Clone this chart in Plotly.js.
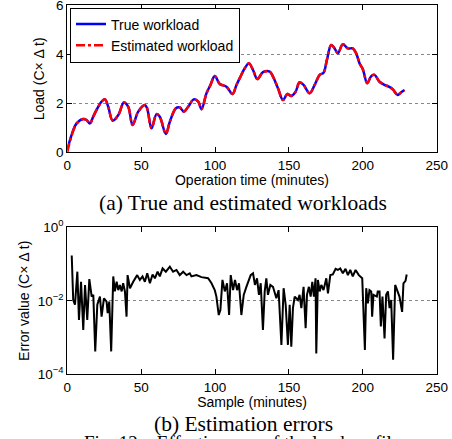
<!DOCTYPE html>
<html>
<head>
<meta charset="utf-8">
<script src="https://cdn.plot.ly/plotly-3.0.1.min.js"></script>
<style>html,body{margin:0;padding:0;background:#fff;}#chart{width:452px;height:439px;overflow:hidden;}</style>
</head>
<body>
<div id="chart"></div>
<script>
// (a) workload series
const loadX = [0,1.8,6.3,10.8,13,15.3,17.5,19.8,23.2,25.5,27.7,30.7,34.5,38.3,41.2,44.2,48,52.5,54,57,60.4,62.6,66.7,69.4,73.5,76.1,78.9,81.8,85.6,88.6,90.8,94.2,96.9,99.8,103.2,107.7,111.8,114.5,117.2,120.1,123,125.7,128.6,132.4,137,139.2,142.6,146,148.9,151.6,154.5,157.2,159.9,164,167.4,170.8,173.4,175.7,178.6,180.9,183.1,186.5,189.9,193.2,195.5,197.8,200,203,205.7,207.9,211.3,214.7,217.6,220.3,223.6,226,228.2];
const trueLoad = [0.1,0.5,1.18,1.36,1.32,1.18,1.45,1.73,2.07,2.16,1.86,1.29,1.52,2.03,1.86,1.11,1.66,1.93,1.8,0.98,1.56,1.45,0.75,1.25,1.8,1.83,1.66,1.86,2.16,2.07,1.76,2.41,2.75,3.11,2.79,2.68,2.38,2.75,3.09,3.43,3.63,3.36,2.99,3.27,3.29,3.09,2.61,2.13,2.38,2.30,2.47,2.86,2.75,2.41,2.75,3.16,3.25,3.77,4.38,4.24,4.04,4.41,4.24,4.24,4.04,3.63,3.39,2.82,3.11,3.16,2.88,2.75,2.68,2.57,2.34,2.45,2.54];
const estLoad = [0.0,0.45,1.17,1.36,1.32,1.18,1.45,1.73,2.07,2.16,1.86,1.29,1.52,2.03,1.86,1.11,1.66,1.93,1.8,0.98,1.56,1.45,0.75,1.25,1.8,1.83,1.66,1.86,2.16,2.07,1.76,2.41,2.75,3.11,2.79,2.68,2.38,2.75,3.09,3.43,3.63,3.36,2.99,3.27,3.29,3.09,2.61,2.13,2.38,2.30,2.47,2.86,2.75,2.41,2.75,3.16,3.25,3.77,4.38,4.24,4.04,4.41,4.24,4.24,4.04,3.63,3.39,2.82,3.11,3.16,2.88,2.75,2.68,2.57,2.34,2.45,2.54];

// (b) estimation error series
const errX = [3,4,5.2,6.8,7.9,9.3,10.8,12,13.5,14.9,16.5,17.6,18.9,20.3,22.1,23.2,24.8,26.6,27.3,28.4,29.7,31.1,32.2,33.4,34.5,35.6,36.8,37.8,39,40.1,40.8,42.4,44.6,47.3,49.1,50.9,52.5,54.1,55.9,57.7,59.3,61.1,62.6,64.5,66.7,69.4,71.6,73.9,76.1,78.4,80.7,82.9,84,87.4,90.8,95.3,97.6,99.8,100.9,102.5,103.6,105,106.6,108.1,109.5,110.6,112.2,113.5,114.9,116.2,117.8,119.4,121.2,123,124.1,125.7,127,128.4,129.7,130.9,132.4,133.6,134.7,135.8,137.4,139.2,141.5,143,144.9,146.4,147.8,149.3,150.5,151.6,152.7,153.9,156.1,157.2,158.4,159.9,161.3,162.2,163.5,164.7,165.8,166.9,168,168.5,169.6,170.8,171.9,173.4,175.3,176.4,178,179.7,181.6,183.1,184.7,186.5,188.3,189.9,191.5,193.2,195.1,197.3,199.6,201.4,202.3,203.4,204.5,205.7,206.3,207.2,209.5,210.1,211.3,212.2,213.3,214.7,215.8,217,218.1,219.2,220.5,221.9,223.2,224.8,226.6,227.5,228.9,229.7];
const errVal = [0.17,0.0105,0.0078,0.062,0.003,0.033,0.0016,0.027,0.003,0.039,0.013,0.0145,0.00042,0.0078,0.013,0.0037,0.0117,0.0095,0.0046,0.0095,0.00042,0.046,0.018,0.033,0.0195,0.027,0.018,0.030,0.018,0.0037,0.050,0.022,0.033,0.050,0.037,0.046,0.033,0.056,0.030,0.052,0.041,0.062,0.046,0.076,0.062,0.085,0.062,0.069,0.050,0.062,0.050,0.056,0.046,0.050,0.044,0.041,0.030,0.0195,0.013,0.0041,0.0056,0.037,0.018,0.030,0.0041,0.050,0.0195,0.037,0.0195,0.030,0.0041,0.0145,0.024,0.037,0.050,0.056,0.027,0.041,0.0145,0.030,0.0016,0.018,0.041,0.0145,0.027,0.024,0.0117,0.0195,0.00063,0.022,0.0078,0.00063,0.0078,0.00056,0.0063,0.013,0.0105,0.0145,0.0063,0.024,0.0018,0.0145,0.024,0.013,0.033,0.013,0.041,0.00037,0.037,0.018,0.027,0.0195,0.041,0.016,0.050,0.052,0.074,0.069,0.076,0.056,0.074,0.050,0.069,0.046,0.069,0.050,0.041,0.00046,0.022,0.0085,0.0195,0.018,0.0037,0.0145,0.013,0.018,0.018,0.002,0.013,0.00095,0.0145,0.018,0.0063,0.0105,0.00025,0.027,0.0195,0.013,0.005,0.030,0.035,0.052];

const xTicks = [0,50,100,150,200,250];
const loadTicks = [0,2,4,6];
const errTicks = [1e-4,1e-2,1];
const errTickText = ['10<sup>−4</sup>','10<sup>−2</sup>','10<sup>0</sup>'];

const W = 452, H = 439;
const px = v => v / W;
const py = v => (H - v) / H;

const sans = 'Liberation Sans, Arial, sans-serif';
const serif = 'Liberation Serif, Times New Roman, serif';

const axisBase = {
  showline: true, linecolor: '#000', linewidth: 1, mirror: 'ticks',
  ticks: 'inside', ticklen: 5, tickcolor: '#000', tickwidth: 1,
  zeroline: false, ticklabeloverflow: 'allow',
  tickfont: {family: sans, size: 13.5, color: '#000'},
};

const traces = [
  {x: loadX, y: trueLoad, type: 'scatter', mode: 'lines', name: 'True workload',
   line: {color: '#0000ff', width: 2.5, shape: 'spline', smoothing: 1}, xaxis: 'x', yaxis: 'y'},
  {x: loadX, y: estLoad, type: 'scatter', mode: 'lines', name: 'Estimated workload',
   line: {color: '#ff0000', width: 2.5, dash: 'dashdot', shape: 'spline', smoothing: 1}, xaxis: 'x', yaxis: 'y'},
  {x: errX, y: errVal, type: 'scatter', mode: 'lines', showlegend: false,
   line: {color: '#000', width: 2}, xaxis: 'x2', yaxis: 'y2'}
];

const layout = {
  width: W, height: H,
  margin: {l: 0, r: 0, t: 0, b: 0},
  paper_bgcolor: '#fff', plot_bgcolor: '#fff',
  showlegend: true,
  legend: {x: px(70), y: py(7.5), xanchor: 'left', yanchor: 'top',
    bgcolor: '#fff', bordercolor: '#000', borderwidth: 1,
    font: {family: sans, size: 14, color: '#000'}},
  xaxis: Object.assign({}, axisBase, {domain: [px(67.3), px(436.7)], anchor: 'y',
    range: [0, 250], tickvals: xTicks, showgrid: false,
    title: {text: 'Operation time (minutes)', font: {family: sans, size: 14, color: '#000'}, standoff: 2}}),
  yaxis: Object.assign({}, axisBase, {domain: [py(152.3), py(5.3)], anchor: 'x',
    range: [0, 6], tickvals: loadTicks, showgrid: true,
    gridcolor: '#888', griddash: 'dot', gridwidth: 1,
    title: {text: 'Load (C× Δ t)', font: {family: sans, size: 14, color: '#000'}, standoff: 8}}),
  xaxis2: Object.assign({}, axisBase, {domain: [px(67.3), px(436.7)], anchor: 'y2',
    range: [0, 250], tickvals: xTicks, showgrid: false,
    title: {text: 'Sample (minutes)', font: {family: sans, size: 14, color: '#000'}, standoff: 2}}),
  yaxis2: Object.assign({}, axisBase, {domain: [py(374.3), py(227.3)], anchor: 'x2',
    type: 'log', range: [-4, 0], tickvals: errTicks, ticktext: errTickText, showgrid: true,
    gridcolor: '#888', griddash: 'dot', gridwidth: 1,
    title: {text: 'Error value (C× Δ t)', font: {family: sans, size: 14, color: '#000'}, standoff: 4}}),
  annotations: [
    {text: '(a) True and estimated workloads', xref: 'paper', yref: 'paper',
     x: px(242.5), y: py(203), xanchor: 'center', yanchor: 'middle', showarrow: false,
     font: {family: serif, size: 21.5, color: '#000'}},
    {text: '(b) Estimation errors', xref: 'paper', yref: 'paper',
     x: px(243), y: py(424), xanchor: 'center', yanchor: 'middle', showarrow: false,
     font: {family: serif, size: 21.5, color: '#000'}},
    {text: 'Fig. 12.   Effectiveness of the load profiler', xref: 'paper', yref: 'paper',
     x: px(82), y: py(442), xanchor: 'left', yanchor: 'middle', showarrow: false,
     font: {family: serif, size: 19, color: '#000'}}
  ]
};

Plotly.newPlot('chart', traces, layout, {displayModeBar: false, staticPlot: true});
</script>
</body>
</html>
